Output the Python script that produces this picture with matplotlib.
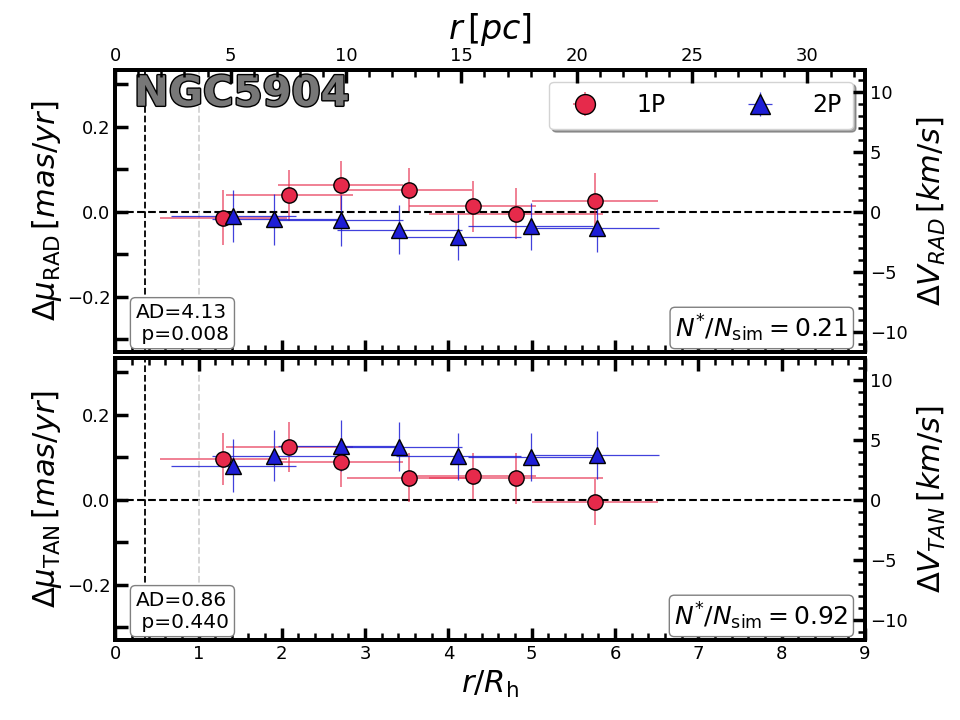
import numpy as np
import matplotlib.pyplot as plt
import matplotlib.patheffects as pe
from matplotlib.ticker import MultipleLocator, FuncFormatter

# cluster parameters
cluster = 'NGC5904'
dist_kpc = 7.48      # kpc
r_h_pc = 3.61        # half-light radius in pc
k_conv = 4.74 * dist_kpc   # mas/yr -> km/s

# radial bins (r/R_h)
x_1p = [1.30, 2.09, 2.71, 3.53, 4.29, 4.81, 5.76]
x_2p = [1.42, 1.91, 2.71, 3.41, 4.12, 4.99, 5.78]
xerr_1p = [0.76, 0.76, 0.75, 0.75, 0.76, 1.04, 0.76]
xerr_2p = [0.75, 0.75, 0.75, 0.75, 0.75, 0.75, 0.75]

# radial component
rad_1p = [-0.014, 0.039, 0.062, 0.052, 0.013, -0.004, 0.025]
rad_1p_err = [0.065, 0.060, 0.058, 0.050, 0.060, 0.060, 0.067]
rad_2p = [-0.010, -0.018, -0.020, -0.042, -0.059, -0.034, -0.038]
rad_2p_err = [0.062, 0.060, 0.060, 0.057, 0.055, 0.055, 0.057]

# tangential component
tan_1p = [0.096, 0.125, 0.088, 0.052, 0.056, 0.051, -0.005]
tan_1p_err = [0.062, 0.059, 0.058, 0.057, 0.054, 0.060, 0.055]
tan_2p = [0.080, 0.104, 0.127, 0.125, 0.102, 0.100, 0.106]
tan_2p_err = [0.062, 0.060, 0.060, 0.057, 0.055, 0.056, 0.056]

ad_text = ['AD=4.13\n p=0.008', 'AD=0.86\n p=0.440']
nsim_text = [r'$N^{*}/N_{\rm sim}=0.21$', r'$N^{*}/N_{\rm sim}=0.92$']

c1 = '#E62A4B'
c2 = '#1E1ED6'
ylim = (-0.33, 0.334)

fig, axes = plt.subplots(2, 1, figsize=(9.6, 7.2), dpi=100, sharex=True)
plt.subplots_adjust(left=0.12, right=0.901, top=0.903, bottom=0.111, hspace=0.02)

panels = [
    (rad_1p, rad_1p_err, rad_2p, rad_2p_err, r'$\Delta\mu_{\rm RAD}\,[mas/yr]$', r'$\Delta V_{RAD}\,[km/s]$'),
    (tan_1p, tan_1p_err, tan_2p, tan_2p_err, r'$\Delta\mu_{\rm TAN}\,[mas/yr]$', r'$\Delta V_{TAN}\,[km/s]$'),
]

def style_ticks(ax):
    ax.tick_params(which='major', direction='in', length=9, width=2.5, labelsize=13)
    ax.tick_params(which='minor', direction='in', length=5, width=1.8)
    for s in ax.spines.values():
        s.set_linewidth(2.8)

for i, (ax, (y1, e1, y2, e2, ylab, ylab2)) in enumerate(zip(axes, panels)):
    ax.axhline(0, color='k', ls='--', lw=1.5, zorder=1)
    ax.axvline(0.36, color='k', ls='--', lw=1.3, zorder=1)
    ax.axvline(1.0, color='lightgray', ls='--', lw=1.3, zorder=1)

    ax.errorbar(x_1p, y1, xerr=xerr_1p, yerr=e1, fmt='o', ms=11, mfc=c1, mec='k',
                mew=1.0, ecolor=(0.9, 0.16, 0.29, 0.75), elinewidth=1.1, zorder=3, label='1P')
    ax.errorbar(x_2p, y2, xerr=xerr_2p, yerr=e2, fmt='^', ms=11, mfc=c2, mec='k',
                mew=1.0, ecolor=(0.12, 0.12, 0.84, 0.85), elinewidth=0.9, zorder=3, label='2P')

    ax.set_xlim(0, 9)
    ax.set_ylim(*ylim)
    ax.set_ylabel(ylab, fontsize=22, labelpad=2)
    ax.yaxis.set_major_locator(MultipleLocator(0.1))
    ax.yaxis.set_major_formatter(FuncFormatter(
        lambda v, p: f'{v:.1f}'.replace('-', '\u2212') if abs(round(v * 10)) % 2 == 0 and abs(v) < 0.31 else ''))
    ax.xaxis.set_major_locator(MultipleLocator(1))
    ax.xaxis.set_minor_locator(MultipleLocator(0.2))
    ax.tick_params(top=True, which='both')
    style_ticks(ax)

    ax.text(0.027, 0.03, ad_text[i], transform=ax.transAxes, fontsize=14.5, va='bottom', ha='left',
            bbox=dict(boxstyle='round,pad=0.25', fc='white', ec='gray'))
    ax.text(0.978, 0.03, nsim_text[i], transform=ax.transAxes, fontsize=18, va='bottom', ha='right',
            bbox=dict(boxstyle='round,pad=0.2', fc='white', ec='gray'))

    ax2 = ax.twinx()
    ax2.set_ylim(ylim[0] * k_conv, ylim[1] * k_conv)
    ax2.yaxis.set_major_locator(MultipleLocator(5))
    ax2.yaxis.set_minor_locator(MultipleLocator(1))
    ax2.set_ylabel(ylab2, fontsize=22, labelpad=6)
    style_ticks(ax2)

axes[1].set_xlabel(r'$r/R_{\rm h}$', fontsize=22)

# top axis in parsec
axt = axes[0].twiny()
axt.set_xlim(0, 9 * r_h_pc)
axt.xaxis.set_major_locator(MultipleLocator(5))
axt.xaxis.set_minor_locator(MultipleLocator(1))
axt.set_xlabel(r'$r\,[pc]$', fontsize=24, labelpad=6)
style_ticks(axt)
axes[0].tick_params(top=False, which='both')

axes[0].text(0.025, 0.99, cluster, transform=axes[0].transAxes, fontsize=30, fontweight='bold',
             color='#777777', va='top', ha='left',
             path_effects=[pe.withStroke(linewidth=2.0, foreground='k')], zorder=5)

leg = axes[0].legend(loc='upper right', ncol=2, fontsize=17, shadow=True, fancybox=True,
                     handletextpad=1.2, columnspacing=3.0, borderpad=0.5, markerscale=1.3)
leg.get_frame().set_edgecolor('lightgray')

fig.savefig('out.png', dpi=100)
